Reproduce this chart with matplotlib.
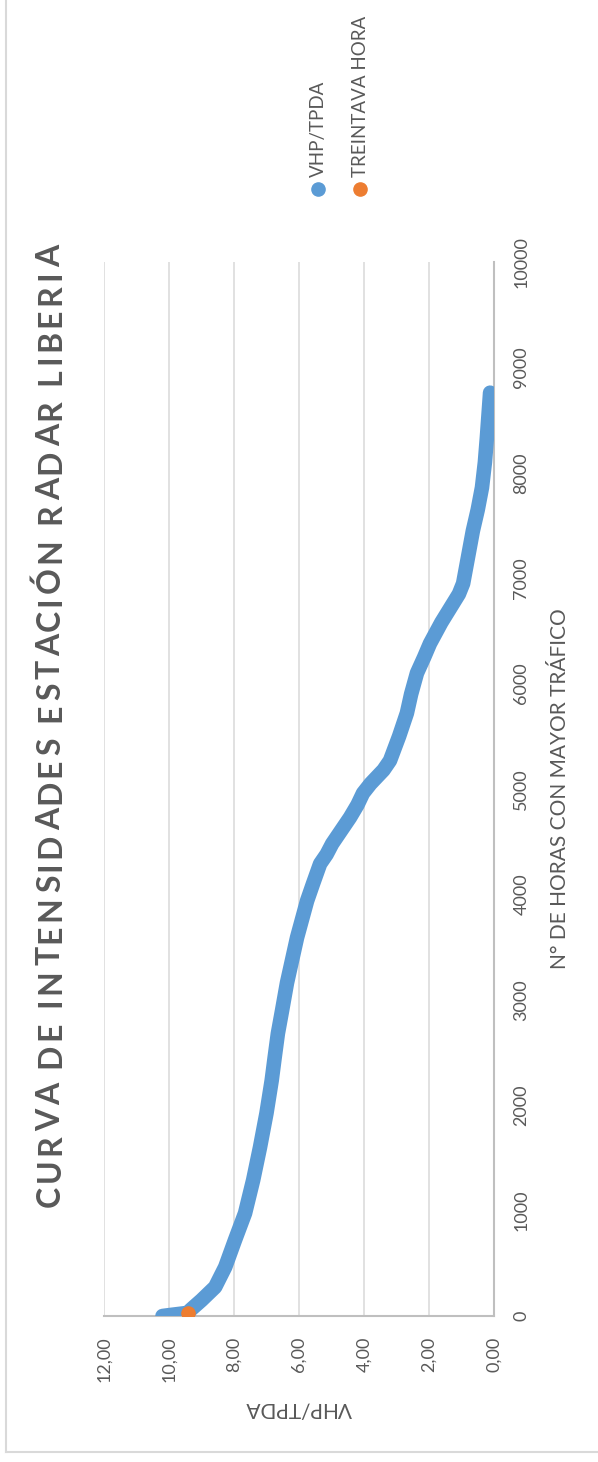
import matplotlib
matplotlib.use("Agg")
import matplotlib.pyplot as plt
from matplotlib.lines import Line2D

# ------------------------------------------------------------------
# DATA
# ------------------------------------------------------------------
horas = [0, 10, 30, 60, 150, 275, 465, 720, 975, 1290, 1600, 1925, 2235,
         2450, 2680, 2900, 3160, 3590, 3940, 4100, 4290, 4380, 4480, 4730,
         4850, 4960, 5050, 5180, 5270, 5500, 5720, 5900, 6100, 6250, 6380,
         6580, 6760, 6850, 6950, 7200, 7450, 7650, 7860, 8100, 8330, 8760]
vhp_tpda = [10.2, 9.95, 9.42, 9.33, 9.0, 8.58, 8.27, 7.97, 7.66, 7.41, 7.2,
            7.0, 6.84, 6.75, 6.65, 6.52, 6.37, 6.06, 5.75, 5.57, 5.35, 5.15,
            4.98, 4.43, 4.2, 4.03, 3.8, 3.4, 3.2, 2.92, 2.68, 2.55, 2.37, 2.15,
            1.97, 1.62, 1.26, 1.08, 0.95, 0.8, 0.65, 0.5, 0.37, 0.28, 0.22,
            0.12]

hora_30 = [30]
vhp_30 = [9.41]

vhp_ticks = [0, 2, 4, 6, 8, 10, 12]
hora_ticks = list(range(0, 10001, 1000))

titulo = "CURVA DE INTENSIDADES ESTACIÓN RADAR LIBERIA"
eje_x = "N° DE HORAS CON MAYOR TRÁFICO"
eje_y = "VHP/TPDA"
series = ["VHP/TPDA", "TREINTAVA HORA"]

# ------------------------------------------------------------------
# STYLE
# ------------------------------------------------------------------
plt.rcParams["font.family"] = ["Lato", "DejaVu Sans"]
gris_txt = "#595959"
azul = "#5B9BD5"
naranja = "#ED7D31"

W, H = 598, 1462
fig = plt.figure(figsize=(W / 100, H / 100), dpi=100)
renderer = fig.canvas.get_renderer()

# chart border (only left and bottom edges are visible in the crop)
fig.add_artist(Line2D([6 / W, 6 / W], [1, 1 - 1452 / H], transform=fig.transFigure,
                      color="#D9D9D9", lw=1.5))
fig.add_artist(Line2D([6 / W, 1], [1 - 1452 / H, 1 - 1452 / H], transform=fig.transFigure,
                      color="#D9D9D9", lw=1.5))

# the chart is rotated: VHP/TPDA runs horizontally (12 left, 0 right),
# hours run vertically (0 bottom, 10000 top)
ax = fig.add_axes([104 / W, 1 - 1316 / H, 390 / W, 1054 / H])
ax.set_xlim(12, 0)
ax.set_ylim(0, 10000)
ax.set_xticks(vhp_ticks)
ax.set_yticks(hora_ticks)
ax.set_xticklabels([f"{v:.2f}".replace(".", ",") for v in vhp_ticks])
ax.yaxis.tick_right()
ax.grid(axis="x", color="#D9D9D9", lw=1.1)
ax.set_axisbelow(True)
for s in ["left", "top"]:
    ax.spines[s].set_visible(False)
for s in ["right", "bottom"]:
    ax.spines[s].set_color("#BFBFBF")
    ax.spines[s].set_linewidth(1.5)
ax.tick_params(axis="x", length=0, labelrotation=90, pad=15, labelsize=13,
               labelcolor=gris_txt)
ax.tick_params(axis="y", length=0, labelrotation=90, pad=14, labelsize=13,
               labelcolor=gris_txt)
for t in ax.get_yticklabels():
    t.set_verticalalignment("center")

ax.plot(vhp_tpda, horas, color=azul, lw=10.5, solid_capstyle="round",
        solid_joinstyle="round", zorder=3)
ax.plot(vhp_30, hora_30, "o", color=naranja, ms=9.5, zorder=4)


# title with expanded letter spacing, written bottom -> top
def ancho(s, **kw):
    t = fig.text(0, 0, s, **kw)
    w = t.get_window_extent(renderer).width
    t.remove()
    return w


kw_tit = dict(fontsize=23, fontweight="bold")
# ink width of every prefix of the title -> natural kerning and advances
prefijos = [ancho(titulo[:i + 1], **kw_tit) for i in range(len(titulo))]
y_ini, y_fin = 1207, 245
track = ((y_ini - y_fin) - prefijos[-1]) / (len(titulo) - 1)
for i, c in enumerate(titulo):
    if c == " ":
        continue
    y_top = y_ini - (prefijos[i] + i * track)
    fig.text(60 / W, 1 - y_top / H, c, rotation=90, ha="right", va="baseline",
             rotation_mode="anchor", color=gris_txt, **kw_tit)

# axis titles
fig.text(560 / W, 1 - 789 / H, eje_x, rotation=90, ha="center", va="center",
         fontsize=15, color=gris_txt)
fig.text(299 / W, 1 - 1408 / H, eje_y, rotation=180, ha="center", va="center",
         fontsize=15, color=gris_txt)

# legend (rotated)
for nombre, col, xp in zip(series, [azul, naranja], [318, 360]):
    fig.add_artist(Line2D([xp / W], [1 - 189 / H], marker="o", color=col, ms=9.5,
                          transform=fig.transFigure, linestyle="none"))
    fig.text(xp / W, 1 - 177 / H, nombre, rotation=90, ha="center", va="bottom",
             fontsize=13.5, color=gris_txt)

plt.savefig("out.png", dpi=100)
plt.close()
